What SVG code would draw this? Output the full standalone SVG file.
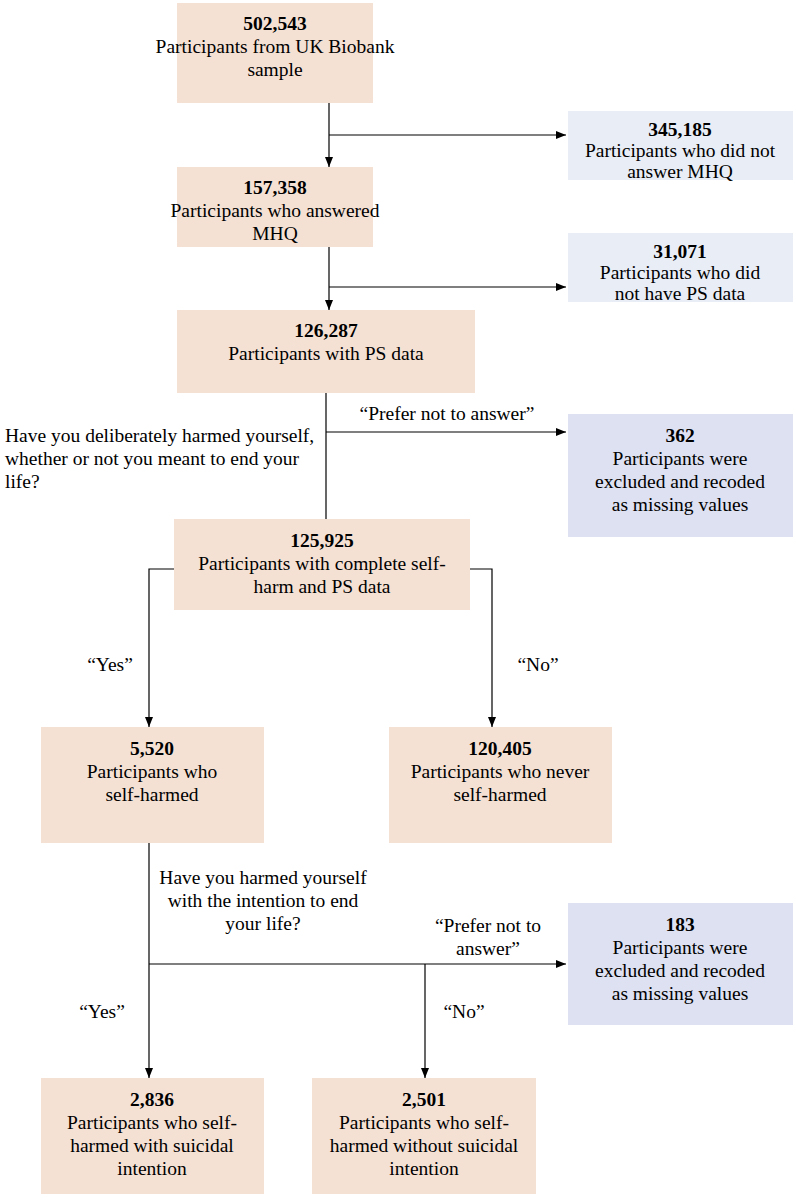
<svg xmlns="http://www.w3.org/2000/svg" width="796" height="1200" viewBox="0 0 796 1200">
<defs>
<marker id="ah" markerWidth="10" markerHeight="8" refX="10" refY="4" orient="auto" markerUnits="userSpaceOnUse"><path d="M0,0 L10,4 L0,8 z" fill="#000"/></marker>
<style>
.p{fill:#f5e1d4}.b{fill:#e9edf6}.d{fill:#dde1f2}
text{font-family:"Liberation Serif","Times New Roman","DejaVu Serif",serif;font-size:19.5px;fill:#000;text-anchor:middle}
.n{font-weight:bold}
.l{text-anchor:start}
.c{fill:none;stroke:#000;stroke-width:1.2}
</style>
</defs>
<rect width="796" height="1200" fill="#fff"/>
<g id="n1"><rect class="p" x="177" y="3" width="196" height="100"/><text class="n" x="275" y="30">502,543</text><text x="275" y="53">Participants from UK Biobank</text><text x="275" y="76">sample</text></g>
<g id="n2"><rect class="b" x="568" y="111" width="225" height="69"/><text class="n" x="680" y="136">345,185</text><text x="680" y="157">Participants who did not</text><text x="680" y="178">answer MHQ</text></g>
<g id="n3"><rect class="p" x="177" y="167" width="196" height="80"/><text class="n" x="275" y="194">157,358</text><text x="275" y="217">Participants who answered</text><text x="275" y="240">MHQ</text></g>
<g id="n4"><rect class="b" x="568" y="233" width="225" height="69"/><text class="n" x="680" y="258">31,071</text><text x="680" y="279">Participants who did</text><text x="680" y="300">not have PS data</text></g>
<g id="n5"><rect class="p" x="177" y="310" width="298" height="83"/><text class="n" x="326" y="337">126,287</text><text x="326" y="360">Participants with PS data</text></g>
<g id="n6"><rect class="d" x="568" y="414" width="225" height="123"/><text class="n" x="680" y="442">362</text><text x="680" y="465">Participants were</text><text x="680" y="488">excluded and recoded</text><text x="680" y="511">as missing values</text></g>
<g id="n7"><rect class="p" x="174" y="519" width="296" height="91"/><text class="n" x="322" y="547">125,925</text><text x="322" y="570">Participants with complete self-</text><text x="322" y="593">harm and PS data</text></g>
<g id="n8"><rect class="p" x="41" y="727" width="223" height="116"/><text class="n" x="152" y="755">5,520</text><text x="152" y="778">Participants who</text><text x="152" y="801">self-harmed</text></g>
<g id="n9"><rect class="p" x="389" y="727" width="223" height="116"/><text class="n" x="500" y="755">120,405</text><text x="500" y="778">Participants who never</text><text x="500" y="801">self-harmed</text></g>
<g id="n10"><rect class="d" x="568" y="903" width="225" height="122"/><text class="n" x="680" y="931">183</text><text x="680" y="954">Participants were</text><text x="680" y="977">excluded and recoded</text><text x="680" y="1000">as missing values</text></g>
<g id="n11"><rect class="p" x="41" y="1078" width="223" height="116"/><text class="n" x="152" y="1106">2,836</text><text x="152" y="1129">Participants who self-</text><text x="152" y="1152">harmed with suicidal</text><text x="152" y="1175">intention</text></g>
<g id="n12"><rect class="p" x="312" y="1078" width="224" height="116"/><text class="n" x="424" y="1106">2,501</text><text x="424" y="1129">Participants who self-</text><text x="424" y="1152">harmed without suicidal</text><text x="424" y="1175">intention</text></g>
<g id="connectors">
<path class="c" d="M329,103 V167" marker-end="url(#ah)"/>
<path class="c" d="M329,135 H566" marker-end="url(#ah)"/>
<path class="c" d="M329,247 V310" marker-end="url(#ah)"/>
<path class="c" d="M329,287 H566" marker-end="url(#ah)"/>
<path class="c" d="M326,393 V519"/>
<path class="c" d="M326,432 H566" marker-end="url(#ah)"/>
<path class="c" d="M174,569 H149 V727" marker-end="url(#ah)"/>
<path class="c" d="M470,569 H492 V727" marker-end="url(#ah)"/>
<path class="c" d="M149,843 V1078" marker-end="url(#ah)"/>
<path class="c" d="M149,964 H566" marker-end="url(#ah)"/>
<path class="c" d="M425,964 V1078" marker-end="url(#ah)"/>
<text class="l" x="5" y="442">Have you deliberately harmed yourself,</text>
<text class="l" x="5" y="465">whether or not you meant to end your</text>
<text class="l" x="5" y="488">life?</text>
<text x="447" y="420">“Prefer not to answer”</text>
<text x="110" y="671">“Yes”</text>
<text x="538" y="671">“No”</text>
<text x="263" y="884">Have you harmed yourself</text>
<text x="263" y="907">with the intention to end</text>
<text x="263" y="930">your life?</text>
<text x="488" y="932">“Prefer not to</text>
<text x="488" y="955">answer”</text>
<text x="102" y="1018">“Yes”</text>
<text x="464" y="1018">“No”</text>
</g>
</svg>
